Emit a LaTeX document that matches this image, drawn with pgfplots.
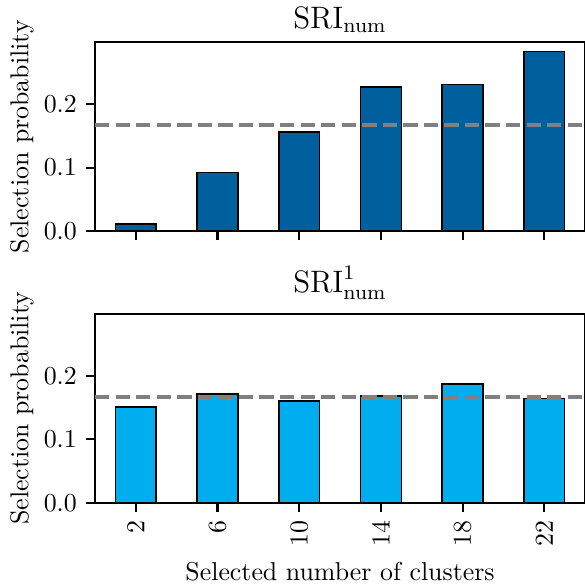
\documentclass[border=0pt]{standalone}
\usepackage{pgfplots}
\pgfplotsset{compat=1.18}
\definecolor{darkblue}{HTML}{00609E}
\definecolor{lightblue}{HTML}{00AEEF}

\pgfplotstableread{
k   p
0   0.011
1   0.092
2   0.156
3   0.227
4   0.231
5   0.283
}\sriall
\pgfplotstableread{
k   p
0   0.151
1   0.171
2   0.160
3   0.168
4   0.187
5   0.164
}\srione

\pgfplotsset{
  prob/.style={
    scale only axis, width=189.6pt, height=73pt,
    xmin=-0.5, xmax=5.5, ymin=0, ymax=0.2975,
    xtick={0,...,5}, ytick={0,0.1,0.2},
    yticklabel style={/pgf/number format/.cd, fixed, fixed zerofill, precision=1},
    tick align=outside, xtick pos=lower, ytick pos=left,
    major tick length=3.5pt,
    tick style={black, line width=0.8pt},
    axis line style={line width=0.8pt},
    ylabel={Selection probability},
    ylabel style={yshift=-3pt},
    every axis title/.style={at={(0.5,1)}, anchor=base, font=\large},
  },
  bars/.style={ybar, bar width=0.5, bar shift=0pt, draw=black, line width=0.6pt, fill=#1},
  uniform/.style={gray, line width=1.5pt, dash pattern=on 5.55pt off 2.4pt},
}

\begin{document}
\begin{tikzpicture}
\useasboundingbox (0,0) rectangle (225.92pt,226.31pt);
% upper panel
\begin{axis}[prob, at={(36.75pt,136.94pt)}, anchor=south west,
  xticklabels={}, title={$\mathrm{SRI}_{\mathrm{num}}$},
  title style={yshift=5.4pt}]
  \addplot[bars=darkblue] table[x=k, y=p] {\sriall};
  \addplot[uniform] coordinates {(-0.5,0.16667) (5.5,0.16667)};
\end{axis}
% lower panel
\begin{axis}[prob, at={(36.75pt,31.84pt)}, anchor=south west,
  xticklabels={2,6,10,14,18,22},
  xticklabel style={rotate=90, anchor=east},
  xlabel={Selected number of clusters},
  xlabel style={yshift=1pt},
  title={$\mathrm{SRI}^{1}_{\mathrm{num}}$},
  title style={yshift=8.5pt}]
  \addplot[bars=lightblue] table[x=k, y=p] {\srione};
  \addplot[uniform] coordinates {(-0.5,0.16667) (5.5,0.16667)};
\end{axis}
\end{tikzpicture}
\end{document}
